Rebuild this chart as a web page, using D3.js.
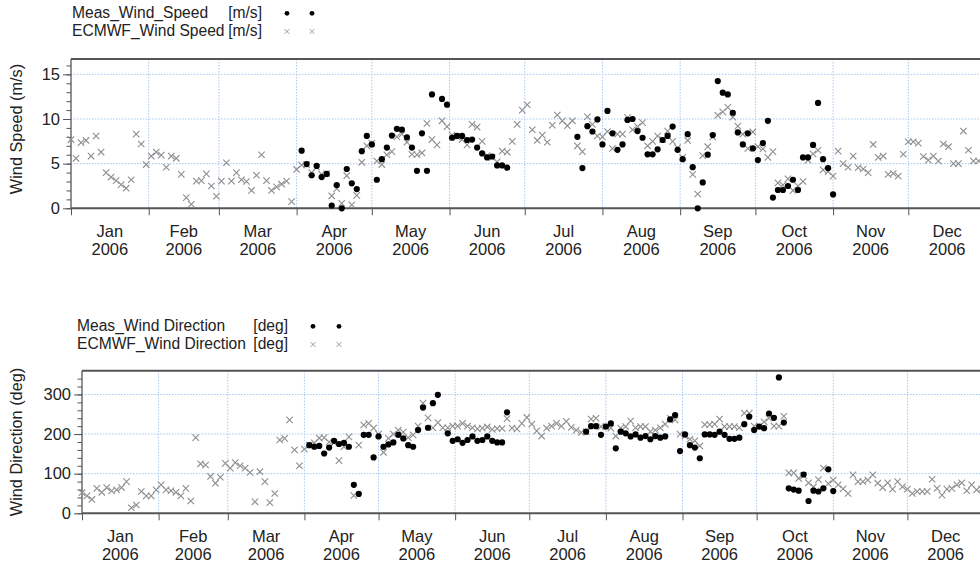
<!DOCTYPE html>
<html>
<head>
<meta charset="utf-8">
<script src="https://cdn.jsdelivr.net/npm/d3@7"></script>
<style>
body { margin: 0; background: #fff; }
svg { display: block; font-family: "Liberation Sans", Arial, sans-serif; }
</style>
</head>
<body>
<script>
// time axis: one value every 2 days
var monthLabels = ["Jan", "Feb", "Mar", "Apr", "May", "Jun", "Jul", "Aug", "Sep", "Oct", "Nov", "Dec"];
var yearLabel = "2006";
var ecmwfStart = "2006-01-01";
var measStart = "2006-04-03";
var stepDays = 2;

var speedTicks = [0, 5, 10, 15];
var dirTicks = [0, 100, 200, 300];

// ECMWF wind speed [m/s], from 1 Jan
var ecmwfSpeed = [
  7.7, 5.6, 7.35, 7.6, 5.85, 8.1, 6.3, 4.0, 3.5, 3.1,
  2.65, 2.25, 3.2, 8.3, 7.2, 4.9, 5.85, 6.3, 5.95, 4.6,
  5.85, 5.6, 3.8, 1.2, 0.45, 3.05, 3.1, 3.85, 2.5, 1.35,
  3.05, 5.1, 3.05, 4.0, 3.2, 3.0, 2.0, 3.7, 6.0, 3.1,
  2.0, 2.4, 2.7, 3.05, 0.75, 4.35, 4.85, 4.9, 4.0, 4.6,
  3.8, 3.9, 1.4, 2.2, 0.55, 3.65, 0.4, 1.45, 5.15, 7.0,
  7.3, 5.3, 4.9, 6.0, 6.35, 8.0, 8.3, 7.4, 6.05, 6.0,
  6.2, 9.5, 7.7, 7.1, 9.8, 9.15, 8.2, 8.0, 7.7, 7.1,
  9.4, 9.1, 7.5, 5.9, 5.7, 5.2, 6.4, 6.3, 7.5, 9.4,
  11.0, 11.6, 8.8, 7.6, 8.2, 7.4, 9.3, 10.45, 9.8, 9.25,
  9.8, 7.0, 6.35, 10.25, 9.4, 8.1, 8.0, 8.6, 6.7, 8.3,
  8.3, 10.15, 8.8, 9.15, 9.6, 7.0, 7.5, 8.1, 7.7, 8.65,
  7.5, 6.8, 5.7, 7.6, 3.8, 1.6, 5.9, 6.9, 8.0, 10.4,
  10.8, 11.3, 10.2, 9.2, 8.3, 6.7, 8.55, 6.9, 6.65, 5.7,
  6.35, 2.85, 2.6, 3.3, 2.0, 2.5, 3.0, 5.4, 6.1, 6.5,
  4.3, 4.1, 3.6, 6.4, 5.0, 4.6, 5.85, 4.55, 4.4, 4.0,
  7.15, 5.7, 5.85, 3.8, 3.9, 3.6, 6.05, 7.45, 7.45, 7.3,
  5.8, 5.4, 5.85, 5.3, 7.2, 6.9, 5.0, 5.0, 8.65, 6.5,
  5.3, 5.3, 5.3
];

// measured wind speed [m/s], from 3 Apr
var measSpeed = [
  6.45, 4.95, 3.7, 4.75, 3.5, 3.85, 0.3, 2.6, 0.0, 4.4,
  2.8, 2.15, 6.4, 8.1, 7.15, 3.2, 5.5, 6.8, 8.15, 8.9,
  8.8, 7.95, 6.8, 4.2, 8.4, 4.2, 12.75, null, 12.25, 11.6,
  7.9, 8.1, 8.1, 7.65, 7.7, 6.8, 6.15, 5.7, 5.8, 4.8,
  4.8, 4.55, null, null, null, null, null, null, null, null,
  null, null, null, null, null, 8.0, 4.5, 9.2, 8.6, 9.95,
  7.15, 10.9, 8.4, 6.55, 7.15, 9.9, 10.0, 8.65, 7.9, 6.05,
  6.05, 6.6, 7.65, 8.1, 9.15, 6.55, 5.5, 8.3, 4.6, 0.0,
  2.9, 6.0, 8.2, 14.25, 12.95, 12.75, 10.7, 8.5, 7.15, 8.4,
  6.7, 5.4, 7.3, 9.8, 1.2, 2.05, 2.05, 2.5, 3.2, 2.05,
  5.7, 5.7, 7.1, 11.8, 5.5, 4.5, 1.55
];

// ECMWF wind direction [deg], from 1 Jan
var ecmwfDir = [
  52, 44, 35, 63, 53, 65, 57, 59, 65, 80,
  14, 21, 55, 44, 44, 59, 72, 59, 57, 53,
  44, 63, 31, 191, 125, 122, 93, 76, 91, 126,
  114, 128, 120, 114, 103, 29, 105, 80, 27, 50,
  185, 189, 236, 160, 120, 162, 172, 178, 190, 191,
  180, 178, 133, 168, 193, 45, 172, 223, 227, 215,
  200, 154, 189, 200, 210, 205, 191, 198, 220, 278,
  241, 216, 229, 216, 216, 220, 220, 227, 220, 216,
  213, 215, 218, 212, 214, 214, 239, 215, 213, 227,
  242, 225, 208, 195, 215, 220, 227, 220, 232, 217,
  210, 204, 206, 238, 240, 219, 219, 215, 195, 215,
  219, 233, 216, 219, 219, 206, 210, 216, 225, 240,
  236, 200, 195, 187, 183, 170, 224, 224, 225, 238,
  219, 219, 219, 216, 253, 253, 220, 220, 231, 240,
  220, 220, 245, 102, 102, 88, 95, 77, 67, 85,
  114, 75, 84, 72, 62, 50, 97, 80, 80, 84,
  97, 76, 65, 77, 61, 80, 67, 61, 50, 55,
  55, 55, 86, 63, 46, 61, 63, 72, 77, 57,
  72, 59, 62
];

// measured wind direction [deg], from 3 Apr
var measDir = [
  172, 168, 170, 151, 166, 183, 175, 178, 168, 72,
  49, 198, 198, 141, 194, 168, 174, 179, 198, 189,
  172, 168, 210, 267, 216, 278, 299, null, 202, 183,
  187, 178, 185, 194, 183, 185, 194, 183, 179, 179,
  255, null, null, null, null, null, null, null, null, null,
  null, null, null, null, null, null, 206, 220, 220, 198,
  219, 227, 164, 206, 202, 194, 199, 191, 195, 187,
  195, 191, 194, 237, 248, 157, 199, 172, 166, 139,
  199, 199, 198, 206, 198, 188, 188, 191, 225, 244,
  210, 219, 215, 252, 241, 343, 229, 63, 60, 57,
  98, 31, 57, 55, 63, 111, 56
];

var w = 980, h = 567;
var parseDay = d3.utcParse("%Y-%m-%d");
var yearStart = parseDay("2006-01-01");
var yearEnd = parseDay("2007-01-01");
var monthStarts = d3.utcMonth.range(yearStart, yearEnd);

function toPoints(start, values) {
  var t0 = parseDay(start);
  return values.map(function(v, i) {
    return { date: d3.utcDay.offset(t0, i * stepDays), value: v };
  }).filter(function(d) { return d.value !== null; });
}

var svg = d3.select("body").append("svg")
    .attr("width", w)
    .attr("height", h);

svg.append("rect").attr("width", w).attr("height", h).attr("fill", "#fff");

function drawPanel(p) {
  var x = d3.scaleUtc().domain([yearStart, yearEnd]).range([p.left, p.right]);
  var y = d3.scaleLinear().domain([0, p.yMax]).range([p.bottom, p.top]);
  var g = svg.append("g");

  // grid
  g.selectAll(".hgrid")
    .data(p.ticks.filter(function(t) { return t > 0; }))
    .enter().append("line")
    .attr("x1", p.left).attr("x2", p.right)
    .attr("y1", function(d) { return y(d); })
    .attr("y2", function(d) { return y(d); })
    .attr("stroke", "#a6c8f0").attr("stroke-width", 1)
    .attr("stroke-dasharray", "1.5,1.5");
  g.selectAll(".vgrid")
    .data(monthStarts.slice(1))
    .enter().append("line")
    .attr("x1", function(d) { return x(d); })
    .attr("x2", function(d) { return x(d); })
    .attr("y1", p.top).attr("y2", p.bottom)
    .attr("stroke", "#a6c8f0").attr("stroke-width", 1)
    .attr("stroke-dasharray", "1.5,1.5");

  // axes
  var minor = g.append("g")
    .attr("transform", "translate(" + p.left + ",0)")
    .call(d3.axisLeft(y).tickValues(d3.range(0, p.yMax, p.minorStep)).tickSize(4.5).tickFormat(""));
  var major = g.append("g")
    .attr("transform", "translate(" + p.left + ",0)")
    .call(d3.axisLeft(y).tickValues(p.ticks).tickSize(8).tickPadding(3));
  major.selectAll("text")
    .attr("font-family", "Liberation Sans, Arial, sans-serif")
    .attr("font-size", "16.5px").attr("fill", "#222");
  var xAxis = g.append("g")
    .attr("transform", "translate(0," + p.bottom + ")")
    .call(d3.axisBottom(x).tickValues(monthStarts).tickSize(7).tickFormat(""));
  [minor, major, xAxis].forEach(function(a) {
    a.select(".domain").remove();
    a.selectAll("line").attr("stroke", "#555");
  });

  // month labels
  var labels = g.selectAll(".mlab")
    .data(monthStarts)
    .enter().append("text")
    .attr("text-anchor", "middle")
    .attr("font-size", "16.5px")
    .attr("fill", "#222")
    .attr("transform", function(d) {
      var mid = new Date((d.getTime() + d3.utcMonth.offset(d, 1).getTime()) / 2);
      return "translate(" + x(mid) + "," + (p.bottom + 28.4) + ")";
    });
  labels.append("tspan").attr("x", 0).attr("y", 0)
    .text(function(d, i) { return monthLabels[i]; });
  labels.append("tspan").attr("x", 0).attr("y", 18.3)
    .text(yearLabel);

  // frame
  g.append("line").attr("x1", p.left).attr("x2", p.right)
    .attr("y1", p.top).attr("y2", p.top)
    .attr("stroke", "#555").attr("stroke-width", 2);
  g.append("line").attr("x1", p.left).attr("x2", p.right)
    .attr("y1", p.bottom).attr("y2", p.bottom)
    .attr("stroke", "#555").attr("stroke-width", 2);
  g.append("line").attr("x1", p.left).attr("x2", p.left)
    .attr("y1", p.top).attr("y2", p.bottom)
    .attr("stroke", "#555").attr("stroke-width", 1.3);

  // axis title
  g.append("text")
    .attr("transform", "translate(22," + p.titleY + ") rotate(-90)")
    .attr("text-anchor", "middle")
    .attr("font-size", "16.3px")
    .attr("fill", "#222")
    .text(p.title);

  // ECMWF crosses
  g.selectAll(".ec")
    .data(toPoints(ecmwfStart, p.ecmwf))
    .enter().append("path")
    .attr("d", "M-3.2,-3.2L3.2,3.2M-3.2,3.2L3.2,-3.2")
    .attr("transform", function(d) { return "translate(" + x(d.date) + "," + y(d.value) + ")"; })
    .attr("stroke", "#8e8e8e").attr("stroke-width", 1.1).attr("fill", "none");

  // measured dots
  g.selectAll(".ms")
    .data(toPoints(measStart, p.meas))
    .enter().append("circle")
    .attr("cx", function(d) { return x(d.date); })
    .attr("cy", function(d) { return y(d.value); })
    .attr("r", 3.1)
    .attr("fill", "#000");

  // legend
  var lg = svg.append("g").attr("font-size", "15.6px").attr("fill", "#222");
  lg.append("text").attr("x", p.legX).attr("y", p.legY).text(p.legMeas);
  lg.append("text").attr("x", p.legUnitX).attr("y", p.legY).attr("text-anchor", "end").text(p.unit);
  lg.append("text").attr("x", p.legX).attr("y", p.legY + 17.6).text(p.legEcmwf);
  lg.append("text").attr("x", p.legUnitX).attr("y", p.legY + 17.6).attr("text-anchor", "end").text(p.unit);
  p.legMarkX.forEach(function(mx) {
    lg.append("circle").attr("cx", mx).attr("cy", p.legY - 5).attr("r", 2.4).attr("fill", "#000");
    lg.append("path").attr("d", "M-2.4,-2.4L2.4,2.4M-2.4,2.4L2.4,-2.4")
      .attr("transform", "translate(" + mx + "," + (p.legY + 13.2) + ")")
      .attr("stroke", "#999").attr("stroke-width", 1).attr("fill", "none");
  });
}

drawPanel({
  left: 71, right: 986, top: 59, bottom: 208.3, yMax: 16.72, minorStep: 1,
  ticks: speedTicks, title: "Wind Speed (m/s)", titleY: 129,
  ecmwf: ecmwfSpeed, meas: measSpeed,
  legX: 72, legUnitX: 262, legY: 18.3, legMarkX: [287, 312],
  legMeas: "Meas_Wind_Speed", legEcmwf: "ECMWF_Wind Speed", unit: "[m/s]"
});

drawPanel({
  left: 82, right: 984, top: 370.7, bottom: 513.3, yMax: 360, minorStep: 20,
  ticks: dirTicks, title: "Wind Direction (deg)", titleY: 442,
  ecmwf: ecmwfDir, meas: measDir,
  legX: 77, legUnitX: 288, legY: 331.3, legMarkX: [313, 339],
  legMeas: "Meas_Wind Direction", legEcmwf: "ECMWF_Wind Direction", unit: "[deg]"
});
</script>
</body>
</html>
